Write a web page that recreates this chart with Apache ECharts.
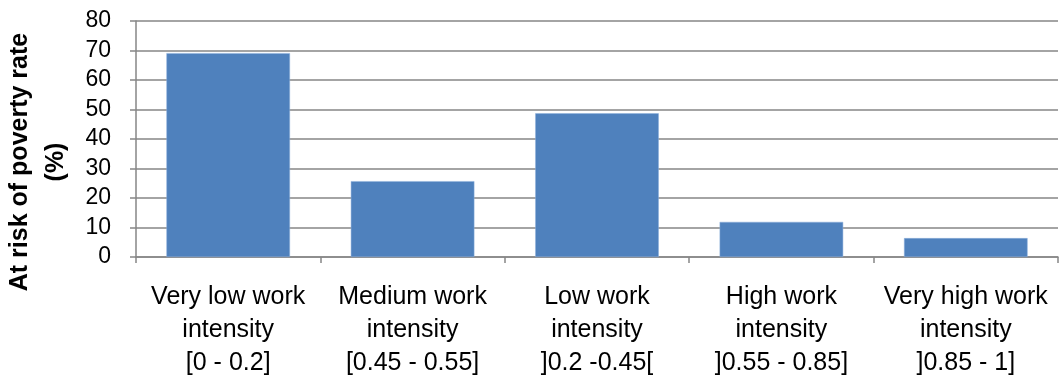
<!DOCTYPE html>
<html><head><meta charset="utf-8">
<script src="https://cdn.jsdelivr.net/npm/echarts@6/dist/echarts.min.js"></script>
<style>html,body{margin:0;padding:0;background:#fff}#c{width:1059px;height:380px}</style>
</head><body><div id="c"></div>
<script>
const categories = ["Very low work\nintensity\n[0 - 0.2]", "Medium work\nintensity\n[0.45 - 0.55]", "Low work\nintensity\n]0.2 -0.45[", "High work\nintensity\n]0.55 - 0.85]", "Very high work\nintensity\n]0.85 - 1]"];
const values = [69.1, 25.7, 48.7, 11.9, 6.4];
const yTicks = {min: 0, max: 80, interval: 10};
const yNameLines = ["At risk of poverty rate", "(%)"];

const chart = echarts.init(document.getElementById('c'), null, {renderer: 'canvas'});
const font = 'Liberation Sans';
const nameStyle = {color: '#000', fontFamily: font, fontSize: 25, fontWeight: 'bold', lineHeight: 36};
chart.setOption({
  animation: false,
  grid: {left: 136, right: 1, top: 21, bottom: 123, containLabel: false, outerBoundsMode: 'none'},
  xAxis: {
    type: 'category', data: categories,
    axisLine: {lineStyle: {color: '#868686', width: 1.5}},
    axisTick: {show: true, length: 6, alignWithLabel: false, lineStyle: {color: '#868686', width: 1.5}},
    axisLabel: {color: '#000', fontFamily: font, fontSize: 25, lineHeight: 33, margin: 24, interval: 0}
  },
  yAxis: {
    type: 'value', min: yTicks.min, max: yTicks.max, interval: yTicks.interval,
    name: '{a|' + yNameLines[0] + '}\n{a|' + yNameLines[1] + '}',
    nameLocation: 'middle', nameRotate: 90, nameGap: 58,
    nameTextStyle: Object.assign({}, nameStyle, {
      rich: {
        a: Object.assign({}, nameStyle, {padding: [0, 46, 0, 0]})
      }
    }),
    axisLine: {show: true, lineStyle: {color: '#868686', width: 1.5}},
    axisTick: {show: true, length: 6, lineStyle: {color: '#868686', width: 1.5}},
    splitLine: {lineStyle: {color: '#868686', width: 1.5}},
    axisLabel: {color: '#000', fontFamily: font, fontSize: 23, margin: 25}
  },
  series: [{
    type: 'bar', data: values, barCategoryGap: '33%',
    itemStyle: {color: '#4f81bd', borderColor: '#8eb0dc', borderWidth: 0.5}
  }]
});
</script></body></html>
